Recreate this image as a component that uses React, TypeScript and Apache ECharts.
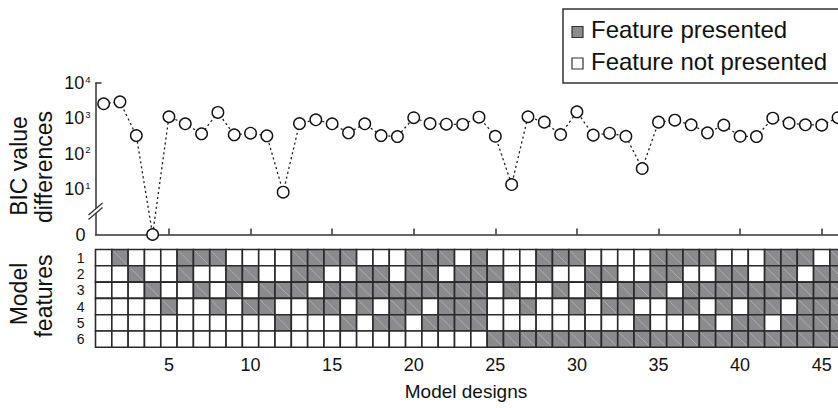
import React, { useEffect, useRef } from "react";
import * as echarts from "echarts";

// ---- data ----
const designNumbers = [
  1, 2, 3, 4, 5, 6, 7, 8, 9, 10, 11, 12, 13, 14, 15, 16, 17, 18, 19, 20, 21, 22, 23,
  24, 25, 26, 27, 28, 29, 30, 31, 32, 33, 34, 35, 36, 37, 38, 39, 40, 41, 42, 43, 44,
  45, 46,
];

// BIC value differences per model design (0 = best model)
const bicValues = [
  2600, 2950, 330, 0, 1120, 710, 370, 1480, 347, 385, 325, 8.4, 720, 920, 710, 395,
  710, 330, 310, 1050, 720, 690, 680, 1090, 316, 13.8, 1120, 790, 354, 1540, 340, 385,
  316, 39, 790, 895, 665, 395, 650, 316, 310, 1020, 740, 665, 650, 1050,
];

const xTickValues = [5, 10, 15, 20, 25, 30, 35, 40, 45];
const yDecades = [1, 2, 3, 4];
const featureLabels = ["1", "2", "3", "4", "5", "6"];

// 1 = feature presented, 0 = not presented
const feature1 = [0,1,0,0,0,1,1,1,0,0,0,0,1,1,1,1,0,0,0,1,1,1,0,1,0,0,0,1,1,1,0,0,0,0,1,1,1,1,0,0,0,1,1,1,0,1];
const feature2 = [0,0,1,0,0,1,0,0,1,1,0,0,1,1,0,0,1,1,0,1,1,0,1,1,1,0,0,1,0,0,1,1,0,0,1,1,0,0,1,1,0,1,1,0,1,1];
const feature3 = [0,0,0,1,0,0,1,0,1,0,1,1,1,0,1,1,1,1,1,1,1,1,1,1,0,1,0,0,1,0,1,0,1,1,1,0,1,1,1,1,1,1,1,1,1,1];
const feature4 = [0,0,0,0,1,0,0,1,0,1,1,0,0,1,1,0,1,0,1,1,0,1,1,1,0,0,1,0,0,1,0,1,1,0,0,1,1,0,1,0,1,1,0,1,1,1];
const feature5 = [0,0,0,0,0,0,0,0,0,0,0,1,0,0,0,1,0,1,1,0,1,1,1,1,0,0,0,0,0,0,0,0,0,1,0,0,0,1,0,1,1,0,1,1,1,1];
const feature6 = [0,0,0,0,0,0,0,0,0,0,0,0,0,0,0,0,0,0,0,0,0,0,0,0,1,1,1,1,1,1,1,1,1,1,1,1,1,1,1,1,1,1,1,1,1,1];
const featureRows = [feature1, feature2, feature3, feature4, feature5, feature6];

// axis position used for the value 0 below the axis break (log10 units)
const ZERO_POS = -0.268;

const FONT = "'Liberation Sans', Arial, Helvetica, sans-serif";
const INK = "#111";
const GRAY = "#8b8b8d";
const TICK_FS = 18;

export default function App() {
  const ref = useRef<HTMLDivElement>(null);

  useEffect(() => {
    if (!ref.current) return;
    const chart = echarts.init(ref.current, undefined, { renderer: "svg" });

    const lineData = bicValues.map((v, i) => [designNumbers[i], v > 0 ? Math.log10(v) : ZERO_POS]);
    const cellData: number[][] = [];
    featureRows.forEach((row, r) => {
      row.forEach((v, c) => cellData.push([designNumbers[c], r, v]));
    });

    const titleStyle = (text: string, size: number) => ({
      text,
      fontSize: size,
      fontFamily: FONT,
      fill: INK,
      textAlign: "center",
      textVerticalAlign: "middle",
    });

    const option: any = {
      animation: false,
      backgroundColor: "#fff",
      grid: [
        { left: 95.5, top: 83, width: 750.7, height: 151.5 },
        { left: 95.5, top: 249.5, width: 750.7, height: 97.8 },
      ],
      xAxis: [
        {
          gridIndex: 0,
          type: "value",
          min: 0.5,
          max: 46.5,
          axisLine: { show: true, onZero: false, lineStyle: { color: "#333", width: 1.5 } },
          axisTick: {
            show: true,
            inside: true,
            length: 6,
            customValues: xTickValues,
            lineStyle: { color: "#333", width: 1.5 },
          },
          axisLabel: { show: false },
          splitLine: { show: false },
        },
        {
          gridIndex: 1,
          type: "value",
          min: 0.5,
          max: 46.5,
          axisLine: { show: false },
          axisTick: { show: false },
          axisLabel: {
            customValues: xTickValues,
            fontSize: TICK_FS,
            fontFamily: FONT,
            color: INK,
            margin: 9,
          },
          splitLine: { show: false },
        },
      ],
      yAxis: [
        {
          gridIndex: 0,
          type: "value",
          min: ZERO_POS,
          max: 4,
          axisLine: { show: true, onZero: false, lineStyle: { color: "#333", width: 1.5 } },
          axisTick: {
            show: true,
            inside: true,
            length: 6,
            customValues: [4],
            lineStyle: { color: "#333", width: 1.5 },
          },
          axisLabel: {
            customValues: [ZERO_POS, ...yDecades],
            margin: 5,
            formatter: (v: number) => (v < 0.5 ? "{z|0}" : `{b|10}{s|${Math.round(v)}}`),
            rich: {
              b: { fontSize: TICK_FS, fontFamily: FONT, color: INK },
              s: { fontSize: 9.5, fontFamily: FONT, color: INK, verticalAlign: "top", padding: [0, 0, 0, 1] },
              z: { fontSize: TICK_FS, fontFamily: FONT, color: INK, padding: [0, 5, 0, 0] },
            },
          },
          splitLine: { show: false },
        },
        {
          gridIndex: 1,
          type: "category",
          data: featureLabels,
          inverse: true,
          axisLine: { show: false },
          axisTick: { show: false },
          axisLabel: {
            interval: 0,
            fontSize: 14,
            lineHeight: 14,
            fontFamily: FONT,
            color: INK,
            margin: 11,
          },
          splitLine: { show: false },
        },
      ],
      series: [
        {
          type: "line",
          xAxisIndex: 0,
          yAxisIndex: 0,
          data: lineData,
          clip: false,
          symbol: "circle",
          symbolSize: 11.5,
          lineStyle: { color: "#222", width: 1.3, type: [2.2, 2.8] },
          itemStyle: { color: "#fff", borderColor: "#111", borderWidth: 1.4 },
          z: 5,
        },
        {
          type: "custom",
          xAxisIndex: 1,
          yAxisIndex: 1,
          data: cellData,
          renderItem: (params: any, api: any) => {
            const p = api.coord([api.value(0), api.value(1)]);
            const w = api.size([1, 0])[0];
            const h = api.size([0, 1])[1];
            const on = api.value(2) === 1;
            const x0 = p[0] - w / 2;
            const y0 = p[1] - h / 2;
            const children: any[] = [
              {
                type: "rect",
                shape: { x: x0, y: y0, width: w, height: h },
                style: { fill: on ? GRAY : "#fff", stroke: "#2a2a2a", lineWidth: 1.6 },
              },
            ];
            if (on) {
              children.push({
                type: "line",
                shape: { x1: x0 + 1.5, y1: y0 + 1.5, x2: x0 + w - 1.5, y2: y0 + h - 1.5 },
                style: { stroke: "rgba(255,255,255,0.35)", lineWidth: 0.8 },
              });
            }
            return { type: "group", children };
          },
        },
      ],
      graphic: [
        // axis break
        {
          type: "polygon",
          z: 50,
          shape: { points: [[93.5, 215.2], [97.6, 211.8], [97.6, 207.3], [93.5, 210.7]] },
          style: { fill: "#fff" },
        },
        {
          type: "line",
          z: 51,
          shape: { x1: 88.5, y1: 215, x2: 102.5, y2: 203 },
          style: { stroke: "#333", lineWidth: 1.3 },
        },
        {
          type: "line",
          z: 51,
          shape: { x1: 88.5, y1: 219.5, x2: 102.5, y2: 207.5 },
          style: { stroke: "#333", lineWidth: 1.3 },
        },
        // axis titles
        { type: "text", x: 19, y: 166, rotation: Math.PI / 2, z: 50, style: titleStyle("BIC value", 23) },
        { type: "text", x: 44, y: 167, rotation: Math.PI / 2, z: 50, style: titleStyle("differences", 23) },
        { type: "text", x: 19, y: 294, rotation: Math.PI / 2, z: 50, style: titleStyle("Model", 23) },
        { type: "text", x: 44, y: 296, rotation: Math.PI / 2, z: 50, style: titleStyle("features", 23) },
        { type: "text", x: 466, y: 391, z: 50, style: titleStyle("Model designs", 19) },
        // legend
        {
          type: "rect", z: 40,
          shape: { x: 563, y: 9, width: 300, height: 74 },
          style: { fill: "#fff", stroke: "#333", lineWidth: 1.5 },
        },
        {
          type: "rect", z: 41,
          shape: { x: 572, y: 26.5, width: 11, height: 11 },
          style: { fill: GRAY, stroke: "#333", lineWidth: 1.2 },
        },
        {
          type: "rect", z: 41,
          shape: { x: 572, y: 58, width: 11, height: 11 },
          style: { fill: "#fff", stroke: "#333", lineWidth: 1.2 },
        },
        {
          type: "text", x: 591, y: 29, z: 41,
          style: { text: "Feature presented", fontSize: 24, fontFamily: FONT, fill: INK, textAlign: "left", textVerticalAlign: "middle" },
        },
        {
          type: "text", x: 591, y: 61, z: 41,
          style: { text: "Feature not presented", fontSize: 24, fontFamily: FONT, fill: INK, textAlign: "left", textVerticalAlign: "middle" },
        },
      ],
    };

    chart.setOption(option);
    return () => chart.dispose();
  }, []);

  return (
    <div
      ref={ref}
      style={{ position: "fixed", left: 0, top: 0, width: 850, height: 408, background: "#fff" }}
    />
  );
}
